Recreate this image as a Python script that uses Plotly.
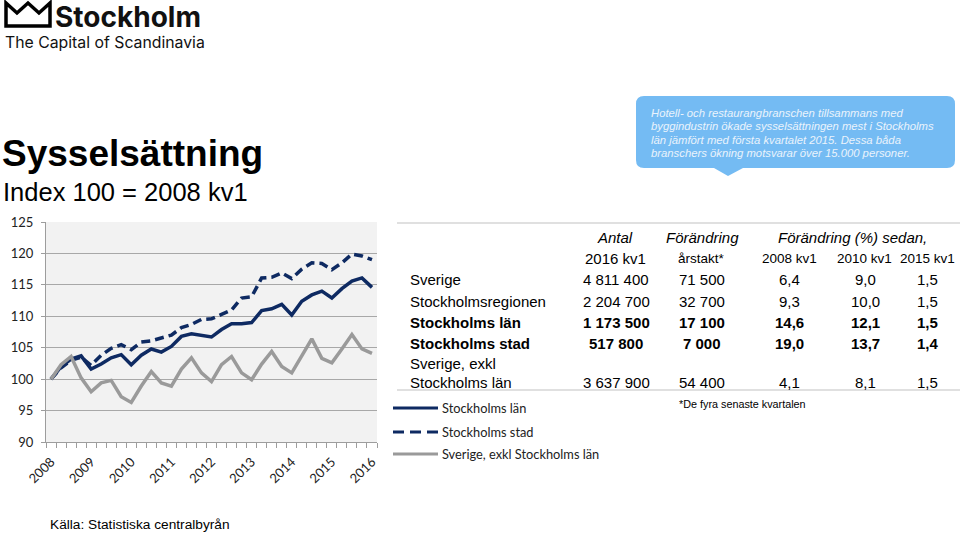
import plotly.graph_objects as go

# ---------------- data ----------------
year_labels = ["2008", "2009", "2010", "2011", "2012", "2013", "2014", "2015", "2016"]
quarters = list(range(33))  # 2008 kv1 .. 2016 kv1

stockholms_lan = [100, 102.0, 103.2, 103.7, 101.6, 102.4, 103.4, 103.9, 102.3, 103.8, 104.8,
                  104.3, 105.2, 106.8, 107.2, 107.0, 106.7, 107.9, 108.8, 108.8, 109.0, 110.9,
                  111.2, 111.9, 110.2, 112.4, 113.4, 114.0, 112.9, 114.4, 115.6, 116.1, 114.6]
stockholms_stad = [100, 101.8, 103.0, 103.5, 102.2, 103.8, 104.9, 105.5, 104.7, 105.9, 106.1,
                   106.5, 107.0, 108.2, 108.7, 109.5, 109.6, 110.3, 111.0, 112.9, 113.1, 116.1,
                   116.2, 116.9, 116.0, 117.5, 118.5, 118.4, 117.4, 118.5, 119.9, 119.6, 119.0]
sverige_exkl = [100, 102.3, 103.6, 100.2, 98.0, 99.4, 99.8, 97.2, 96.3, 98.9, 101.2,
                99.4, 98.9, 101.6, 103.4, 101.0, 99.6, 102.3, 103.6, 101.0, 99.9, 102.4,
                104.4, 102.0, 101.0, 103.7, 106.4, 103.3, 102.6, 104.8, 107.1, 104.8, 104.1]

series_names = ["Stockholms län", "Stockholms stad", "Sverige, exkl Stockholms län"]

# table
tab_regions = ["Sverige", "Stockholmsregionen", "Stockholms län", "Stockholms stad",
               "Sverige, exkl<br>Stockholms län"]
tab_antal = ["4 811 400", "2 204 700", "1 173 500", "517 800", "3 637 900"]
tab_arstakt = ["71 500", "32 700", "17 100", "7 000", "54 400"]
tab_2008 = ["6,4", "9,3", "14,6", "19,0", "4,1"]
tab_2010 = ["9,0", "10,0", "12,1", "13,7", "8,1"]
tab_2015 = ["1,5", "1,5", "1,5", "1,4", "1,5"]
tab_bold = [False, False, True, True, False]

callout_lines = ["Hotell- och restaurangbranschen tillsammans med",
                 "byggindustrin ökade sysselsättningen mest i Stockholms",
                 "län jämfört med första kvartalet 2015. Dessa båda",
                 "branschers ökning motsvarar över 15.000 personer."]

# ---------------- geometry helpers ----------------
W, H = 960, 536
PL, PR, PT, PB = 46, 377, 222, 442


def px(x):
    return (x - PL) / (PR - PL)


def py(y):
    return (PB - y) / (PB - PT)


NAVY = "#0e2a62"
GREY = "#9a9a9a"
ARIAL = "Liberation Sans, Arial, sans-serif"
CAL = "Lato, Open Sans, sans-serif"

line_styles = [dict(color=NAVY, width=3.5),
               dict(color=NAVY, width=3.5, dash="9px,5px"),
               dict(color=GREY, width=3.5)]

fig = go.Figure()
for name, ys, st in zip(series_names, [stockholms_lan, stockholms_stad, sverige_exkl], line_styles):
    fig.add_trace(go.Scatter(x=quarters, y=ys, mode="lines", name=name, line=st))

annotations = []
shapes = []

# ---------- logo ----------
crown = [(6, 26), (6, 3), (17, 13), (28, 3), (39, 13), (50, 3), (50, 26)]
path = "M " + " L ".join(f"{px(a)},{py(b)}" for a, b in crown) + " Z"
shapes.append(dict(type="path", xref="paper", yref="paper", path=path,
                   line=dict(color="black", width=3.5)))
annotations.append(dict(text="<b>Stockholm</b>", x=px(54), y=py(16.8), xref="paper", yref="paper",
                        xanchor="left", yanchor="middle", showarrow=False,
                        borderpad=0,
                        font=dict(family="Inter, sans-serif", size=28, color="#111")))
annotations.append(dict(text="The Capital of Scandinavia", x=px(4), y=py(43), xref="paper",
                        yref="paper", xanchor="left", yanchor="middle", showarrow=False,
                        borderpad=0,
                        font=dict(family="Inter, sans-serif", size=15.8, color="#111")))

# ---------- title ----------
annotations.append(dict(text="<b>Sysselsättning</b>", x=px(0), y=py(153), xref="paper", yref="paper",
                        xanchor="left", yanchor="middle", showarrow=False,
                        font=dict(family=ARIAL, size=37, color="black")))
annotations.append(dict(text="Index 100 = 2008 kv1", x=px(1), y=py(192), xref="paper", yref="paper",
                        xanchor="left", yanchor="middle", showarrow=False,
                        font=dict(family=ARIAL, size=25.5, color="black")))

# ---------- callout ----------
bx0, bx1, by0, by1, r = 636, 955, 96, 168, 8
tip_l, tip_r, tip_x, tip_y = 714, 743, 728, 176
pts = (f"M {px(bx0 + r)},{py(by0)} L {px(bx1 - r)},{py(by0)} "
       f"Q {px(bx1)},{py(by0)} {px(bx1)},{py(by0 + r)} L {px(bx1)},{py(by1 - r)} "
       f"Q {px(bx1)},{py(by1)} {px(bx1 - r)},{py(by1)} L {px(tip_r)},{py(by1)} "
       f"L {px(tip_x)},{py(tip_y)} L {px(tip_l)},{py(by1)} L {px(bx0 + r)},{py(by1)} "
       f"Q {px(bx0)},{py(by1)} {px(bx0)},{py(by1 - r)} L {px(bx0)},{py(by0 + r)} "
       f"Q {px(bx0)},{py(by0)} {px(bx0 + r)},{py(by0)} Z")
shapes.append(dict(type="path", xref="paper", yref="paper", path=pts,
                   fillcolor="#74bbf3", line=dict(width=0)))
for i, line in enumerate(callout_lines):
    annotations.append(dict(text=f"<i>{line}</i>", x=px(649), y=py(113 + 13.4 * i), xref="paper",
                            yref="paper", xanchor="left", yanchor="middle", showarrow=False,
                            font=dict(family=ARIAL, size=11.3, color="#eaf3fc")))

# ---------- table ----------
shapes.append(dict(type="line", xref="paper", yref="paper", x0=px(397), x1=px(960),
                   y0=py(223), y1=py(223), line=dict(color="#d6d6d6", width=1.5)))
shapes.append(dict(type="line", xref="paper", yref="paper", x0=px(397), x1=px(960),
                   y0=py(390), y1=py(390), line=dict(color="#d6d6d6", width=1.5)))

col_x = [616, 702, 789, 865, 928]


def txt(s, x, y, size=15, anchor="center", italic=False, bold=False, fam=ARIAL, color="black"):
    if bold:
        s = f"<b>{s}</b>"
    if italic:
        s = f"<i>{s}</i>"
    annotations.append(dict(text=s, x=px(x), y=py(y), xref="paper", yref="paper",
                            xanchor=anchor, yanchor="middle", showarrow=False,
                            font=dict(family=fam, size=size, color=color)))


txt("Antal", 615, 237, 15, italic=True)
txt("Förändring", 702, 237, 15, italic=True)
txt("Förändring (%) sedan,", 852, 237, 15, italic=True)
txt("2016 kv1", 615, 258, 15)
txt("årstakt*", 701, 258, 13.5)
txt("2008 kv1", 789, 258, 13.5)
txt("2010 kv1", 864, 258, 13.5)
txt("2015 kv1", 927, 258, 13.5)

row_y = [279, 301, 322, 343, 382]
for i in range(5):
    b = tab_bold[i]
    if i == 4:
        a, c = tab_regions[i].split("<br>")
        txt(a, 408, 363, 15, anchor="left")
        txt(c, 408, 382, 15, anchor="left")
    else:
        txt(tab_regions[i], 408, row_y[i], 15, anchor="left", bold=b)
    for cx, col in zip(col_x, [tab_antal, tab_arstakt, tab_2008, tab_2010, tab_2015]):
        txt(col[i], cx, row_y[i], 15, bold=b)

txt("*De fyra senaste kvartalen", 677, 404, 10.8, anchor="left")
txt("Källa: Statistiska centralbyrån", 48, 524, 13.7, anchor="left")

# ---------- legend (drawn beside the chart) ----------
leg_y = [408, 432, 454]
for name, st, ly in zip(series_names, line_styles, leg_y):
    shapes.append(dict(type="line", xref="paper", yref="paper", x0=px(393), x1=px(438),
                       y0=py(ly), y1=py(ly),
                       line=dict(color=st["color"], width=3,
                                 dash="11px,6px" if "dash" in st else "solid")))
    txt(name, 440, ly, 12.8, anchor="left", fam=CAL, color="#222")

fig.update_layout(
    width=W, height=H,
    margin=dict(l=PL, r=W - PR, t=PT, b=H - PB, autoexpand=False),
    paper_bgcolor="white", plot_bgcolor="#f2f2f2",
    showlegend=False,
    annotations=annotations, shapes=shapes,
)
fig.update_xaxes(range=[-0.5, 32.5], tickmode="array", tickvals=[0, 4, 8, 12, 16, 20, 24, 28, 32],
                 ticktext=year_labels, tickangle=-45, ticks="", showgrid=False, zeroline=False,
                 showline=True, linecolor="#9d9d9d", linewidth=1.2, ticklabelstandoff=6,
                 tickfont=dict(family=CAL, size=13, color="#222"),
                 minor=dict(tickmode="array", tickvals=[k - 0.5 for k in range(34)],
                            ticks="outside", ticklen=5, tickcolor="#9d9d9d", showgrid=False))
fig.update_yaxes(range=[90, 125], dtick=5, tick0=90, ticks="outside", ticklen=4,
                 tickcolor="#9d9d9d", showgrid=True, gridcolor="#a8a8a8", gridwidth=1.2,
                 zeroline=False, showline=True, linecolor="#9d9d9d", linewidth=1.2,
                 ticklabelstandoff=5,
                 tickfont=dict(family=CAL, size=13, color="#222"))

fig.write_html("out.html")
